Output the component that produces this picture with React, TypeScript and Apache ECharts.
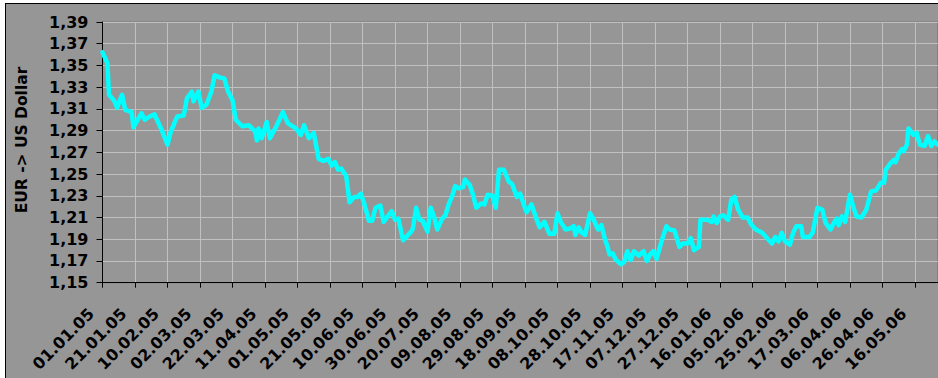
import React, { useEffect, useRef } from 'react';
import * as echarts from 'echarts';

// Tick labels of the date axis (one every 20 days, starting 01.01.05)
const dateLabels = [
  '01.01.05', '21.01.05', '10.02.05', '02.03.05', '22.03.05', '11.04.05', '01.05.05',
  '21.05.05', '10.06.05', '30.06.05', '20.07.05', '09.08.05', '29.08.05', '18.09.05',
  '08.10.05', '28.10.05', '17.11.05', '07.12.05', '27.12.05', '16.01.06', '05.02.06',
  '25.02.06', '17.03.06', '06.04.06', '26.04.06', '16.05.06',
];
const labelStepDays = 20;
const lastDay = 514;

const yMin = 1.15;
const yMax = 1.39;
const yStep = 0.02;

const axisTitle = 'EUR -> US Dollar';

// days since 01.01.2005
const dayOffsets = [
  0, 3, 4, 7, 9, 12, 14, 18, 19, 24,
  26, 29, 32, 36, 40, 42, 46, 50, 52, 55,
  56, 59, 61, 64, 67, 69, 72, 75, 77, 80,
  82, 86, 90, 94, 95, 96, 98, 101, 103, 107,
  111, 114, 117, 119, 122, 124, 127, 130, 133, 136,
  139, 141, 143, 145, 147, 150, 152, 155, 157, 159,
  161, 164, 166, 168, 171, 173, 175, 178, 180, 182,
  185, 188, 190, 191, 193, 195, 197, 200, 202, 204,
  206, 209, 211, 213, 215, 217, 219, 222, 223, 226,
  228, 230, 233, 235, 237, 240, 242, 244, 247, 250,
  252, 255, 257, 259, 261, 264, 267, 269, 272, 275,
  278, 280, 282, 285, 288, 290, 291, 293, 295, 297,
  300, 302, 304, 305, 307, 309, 311, 312, 314, 316,
  319, 321, 323, 325, 327, 330, 333, 335, 337, 339,
  341, 344, 347, 349, 352, 355, 357, 360, 362, 364,
  367, 368, 372, 375, 376, 378, 380, 382, 385, 387,
  389, 391, 394, 397, 399, 402, 406, 409, 412, 414,
  416, 418, 420, 423, 425, 427, 430, 431, 435, 437,
  440, 443, 445, 448, 450, 452, 453, 455, 457, 460,
  462, 464, 467, 470, 473, 476, 479, 481, 482, 485,
  487, 488, 490, 492, 493, 495, 496, 499, 501, 503,
  506, 508, 510, 512, 514,
];

const eurUsdRates = [
  1.362, 1.352, 1.323, 1.318, 1.311, 1.323, 1.309, 1.307, 1.293, 1.306,
  1.300, 1.303, 1.305, 1.292, 1.277, 1.289, 1.303, 1.304, 1.320, 1.326,
  1.317, 1.326, 1.311, 1.314, 1.326, 1.341, 1.339, 1.338, 1.327, 1.318,
  1.300, 1.294, 1.295, 1.289, 1.281, 1.292, 1.283, 1.298, 1.283, 1.294,
  1.307, 1.297, 1.294, 1.292, 1.286, 1.295, 1.283, 1.288, 1.264, 1.262,
  1.264, 1.258, 1.261, 1.254, 1.255, 1.248, 1.224, 1.229, 1.229, 1.232,
  1.223, 1.207, 1.207, 1.219, 1.221, 1.206, 1.210, 1.216, 1.208, 1.209,
  1.189, 1.194, 1.197, 1.200, 1.219, 1.208, 1.207, 1.197, 1.219, 1.211,
  1.199, 1.209, 1.212, 1.222, 1.229, 1.239, 1.237, 1.238, 1.245, 1.240,
  1.231, 1.219, 1.223, 1.222, 1.231, 1.230, 1.219, 1.254, 1.254, 1.243,
  1.241, 1.229, 1.232, 1.223, 1.215, 1.222, 1.209, 1.201, 1.206, 1.195,
  1.195, 1.214, 1.206, 1.199, 1.200, 1.202, 1.194, 1.201, 1.196, 1.194,
  1.214, 1.209, 1.202, 1.199, 1.203, 1.191, 1.182, 1.176, 1.177, 1.171,
  1.167, 1.169, 1.179, 1.171, 1.179, 1.175, 1.179, 1.170, 1.176, 1.179,
  1.172, 1.188, 1.202, 1.199, 1.198, 1.183, 1.186, 1.186, 1.191, 1.180,
  1.183, 1.208, 1.208, 1.206, 1.211, 1.205, 1.211, 1.212, 1.208, 1.227,
  1.229, 1.218, 1.210, 1.210, 1.204, 1.199, 1.196, 1.191, 1.186, 1.192,
  1.188, 1.196, 1.188, 1.185, 1.196, 1.202, 1.202, 1.192, 1.192, 1.196,
  1.219, 1.217, 1.205, 1.199, 1.205, 1.209, 1.203, 1.211, 1.206, 1.231,
  1.220, 1.211, 1.210, 1.217, 1.234, 1.235, 1.242, 1.242, 1.254, 1.260,
  1.263, 1.261, 1.269, 1.273, 1.271, 1.277, 1.292, 1.286, 1.288, 1.277,
  1.276, 1.285, 1.276, 1.280, 1.277,
];

const FONT = '"DejaVu Sans", "Liberation Sans", Arial, sans-serif';

export default function App() {
  const ref = useRef<HTMLDivElement>(null);

  useEffect(() => {
    if (!ref.current) return;
    const chart = echarts.init(ref.current, null, { renderer: 'svg' });
    const seriesData = dayOffsets.map((d, i) => [d, eurUsdRates[i]]);
    chart.setOption({
      animation: false,
      backgroundColor: '#969696',
      textStyle: { fontFamily: FONT },
      grid: {
        left: 96.5,
        top: 18,
        width: 835.25,
        height: 260.7,
        show: true,
        backgroundColor: '#969696',
        borderColor: '#7a7a7a',
        borderWidth: 1,
        containLabel: false,
      },
      xAxis: {
        type: 'value',
        min: 0,
        max: lastDay,
        interval: labelStepDays,
        axisLine: { show: true, onZero: false, lineStyle: { color: '#000', width: 1 } },
        axisTick: { show: true, length: 5, lineStyle: { color: '#000', width: 1 } },
        splitLine: { show: true, lineStyle: { color: '#c0c0c0', width: 1 } },
        axisLabel: {
          rotate: 45,
          margin: 17,
          padding: [0, 16, 0, 0],
          fontFamily: FONT,
          fontWeight: 'bold',
          fontSize: 16,
          color: '#000',
          showMaxLabel: false,
          formatter: (v: number) => {
            const idx = v / labelStepDays;
            return Number.isInteger(idx) && dateLabels[idx] ? dateLabels[idx] : '';
          },
        },
      },
      yAxis: {
        type: 'value',
        min: yMin,
        max: yMax,
        interval: yStep,
        axisLine: { show: true, lineStyle: { color: '#000', width: 1 } },
        axisTick: { show: true, length: 6, lineStyle: { color: '#000', width: 1 } },
        splitLine: { show: true, lineStyle: { color: '#c0c0c0', width: 1 } },
        axisLabel: {
          margin: 14,
          fontFamily: FONT,
          fontWeight: 'bold',
          fontSize: 16,
          color: '#000',
          formatter: (v: number) => v.toFixed(2).replace('.', ','),
        },
      },
      series: [
        {
          type: 'line',
          data: seriesData,
          showSymbol: false,
          symbol: 'none',
          lineStyle: { color: '#00ffff', width: 4.5, join: 'round', cap: 'round' },
          itemStyle: { color: '#00ffff' },
          z: 3,
        },
      ],
      graphic: [
        {
          type: 'text',
          x: 16,
          y: 136,
          rotation: Math.PI / 2,
          style: {
            text: axisTitle,
            font: `bold 15.5px ${FONT}`,
            fill: '#000',
            textAlign: 'center',
            textVerticalAlign: 'middle',
            align: 'center',
            verticalAlign: 'middle',
          },
        },
      ],
    });
    return () => chart.dispose();
  }, []);

  return (
    <div
      style={{
        position: 'fixed',
        left: 0,
        top: 0,
        width: 938,
        height: 378,
        overflow: 'hidden',
        background: '#ffffff',
      }}
    >
      <div
        style={{
          position: 'absolute',
          left: 5,
          top: 3,
          border: '1px solid #000',
          width: 940,
          height: 380,
        }}
      >
        <div ref={ref} style={{ width: 940, height: 380 }} />
      </div>
    </div>
  );
}
